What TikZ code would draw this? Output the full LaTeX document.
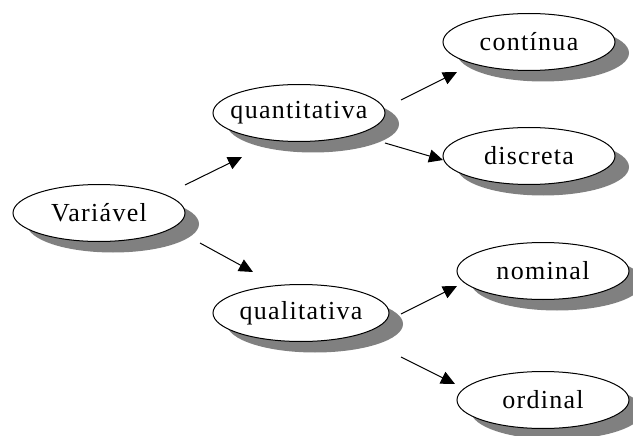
\documentclass[tikz,border=0pt]{standalone}
\usepackage{fontspec}
\setmainfont{Liberation Serif}[LetterSpace=5]
\usetikzlibrary{shadows,arrows.meta,shapes.geometric}
\tikzset{
  concept/.style={ellipse, draw=black, line width=1pt, fill=white, minimum width=172pt, minimum height=57pt, inner xsep=-30pt, inner ysep=0pt,
    font=\fontsize{26}{28}\selectfont,
    drop shadow={shadow xshift=14pt, shadow yshift=-11pt, opacity=1, fill=gray}},
  link/.style={line width=1pt, -{Triangle[length=14pt,width=13pt]}}
}
\begin{document}
\begin{tikzpicture}[x=1pt,y=-1pt]
\useasboundingbox (0,0) rectangle (633,436);
\node[concept] (v) at (99,213) {Variável};
\node[concept] (qt) at (299,113) {quantitativa};
\node[concept, minimum width=176pt] (ql) at (301,313) {qualitativa};
\node[concept] (c) at (529,42) {contínua};
\node[concept] (d) at (529,156) {discreta};
\node[concept] (n) at (543,271) {nominal};
\node[concept] (o) at (543,400) {ordinal};
\draw[link] ([shift={(86,-28)}]v.center) -- ([shift={(-57,44)}]qt.center);
\draw[link] ([shift={(101,30)}]v.center) -- ([shift={(-48,-41)}]ql.center);
\draw[link] ([shift={(102,-13)}]qt.center) -- ([shift={(-72,30)}]c.center);
\draw[link] ([shift={(86,30)}]qt.center) -- ([shift={(-86,4)}]d.center);
\draw[link] ([shift={(100,1)}]ql.center) -- ([shift={(-86,15)}]n.center);
\draw[link] ([shift={(100,44)}]ql.center) -- ([shift={(-88,-16)}]o.center);
\end{tikzpicture}
\end{document}
